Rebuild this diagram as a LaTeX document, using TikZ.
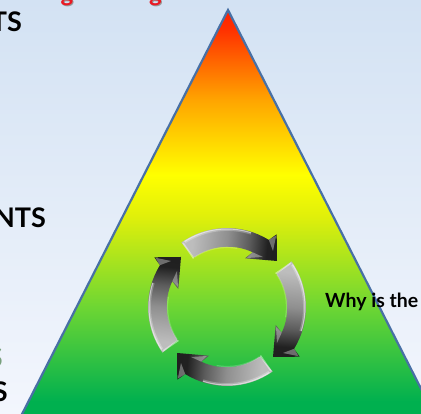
\documentclass[tikz,border=0pt]{standalone}
\usepackage{fontspec}
\setmainfont{Lato}
\usepackage{xcolor}
\usetikzlibrary{positioning}
\definecolor{edgeblue}{RGB}{72, 112, 165}
\definecolor{skytop}{RGB}{211, 226, 243}
\definecolor{skylow}{RGB}{243, 246, 253}
\definecolor{redmark}{RGB}{235, 25, 35}
\definecolor{greenmark}{RGB}{120, 160, 125}
\pgfdeclareverticalshading{pyramidfill}{100bp}{
  rgb(0bp)=(0,0.69,0.31);
  rgb(27.5bp)=(0,0.69,0.31);
  rgb(39bp)=(0.43,0.84,0.2);
  rgb(50bp)=(0.88,0.94,0.04);
  rgb(55bp)=(1,1,0);
  rgb(64bp)=(1,0.65,0);
  rgb(72.5bp)=(1,0.2,0);
  rgb(75bp)=(1,0.12,0);
  rgb(100bp)=(1,0.12,0)}
\pgfdeclareverticalshading{arrowgrey}{100bp}{
  rgb(0bp)=(0.74,0.74,0.74);
  rgb(30bp)=(0.74,0.74,0.74);
  rgb(49bp)=(0.56,0.56,0.56);
  rgb(61bp)=(0.36,0.36,0.36);
  rgb(71bp)=(0.13,0.13,0.13);
  rgb(100bp)=(0.1,0.1,0.1)}
\begin{document}
\begin{tikzpicture}[
    x=1pt, y=1pt,
    heading/.style={font=\bfseries\fontsize{27}{27}\selectfont, text=black, inner sep=0pt, anchor=base east},
    why/.style={font=\bfseries\fontsize{19.5}{20}\selectfont, text=black, inner sep=0pt, anchor=base west},
    redtail/.style={font=\bfseries\fontsize{24}{24}\selectfont, text=redmark, inner sep=0pt, anchor=base}
]
\useasboundingbox (0,0) rectangle (421,414);
\clip (0,0) rectangle (421,414);

% Background
\fill[top color=skytop, bottom color=skylow] (0,0) rectangle (421,414);

% Cut off headings
\node[redtail, text=black!40] (shadeone) at (68,411) {g};
\node[redtail, text=black!40] (shadetwo) at (156.5,411) {g};
\node[redtail] (tailone) at (67,412) {g};
\node[redtail] (tailtwo) at (155.5,412) {g};
\node[heading] (headtop) at (22,382) {TS};
\node[heading] (headmid) at (46,186) {NTS};
\node[heading, text=greenmark] (headgreen) at (3,46) {S};
\node[heading] (headlow) at (8,12) {S};

% Pyramid
\draw[edgeblue, line width=2.2pt, miter limit=10, shading=pyramidfill]
    (228,404) -- (18,-8) -- (438,-8) -- cycle;

% Cycle arrows
\foreach \turn/\shadeangle in {0/-95, -90/-185, 180/85, 90/-5} {
  \begin{scope}[shift={(227,107)}, rotate=\turn]
    \shade[shading=arrowgrey, shading angle=\shadeangle]
      (125.3:79) arc[start angle=125.3, end angle=58.1, radius=79]
      -- (49.7,72.7) -- (50,46) -- (18,48.7) -- (25.7,54.7)
      arc[start angle=64.8, end angle=125.3, radius=58.5] -- cycle;
    % rim
    \draw[white, opacity=0.25, line width=2.6pt]
      (123:77.4) arc[start angle=123, end angle=72, radius=77.4];
    \draw[white, opacity=0.5, line width=1pt]
      (123:78) arc[start angle=123, end angle=72, radius=78];
    \draw[white, opacity=0.45, line width=1.6pt]
      (124.5:77.6) -- (124.5:59);
    \draw[white, opacity=0.2, line width=1.2pt]
      (123:59.5) arc[start angle=123, end angle=80, radius=59.5];
    % barbs
    \fill[white, opacity=0.35] (41.8,67.1) -- (49.2,71.5) -- (46,56) -- cycle;
    \fill[white, opacity=0.35] (25.7,54.7) -- (20,49) -- (36,50) -- cycle;
  \end{scope}
}

\node[why] (whyline) at (325,106) {Why is the};
\end{tikzpicture}
\end{document}
